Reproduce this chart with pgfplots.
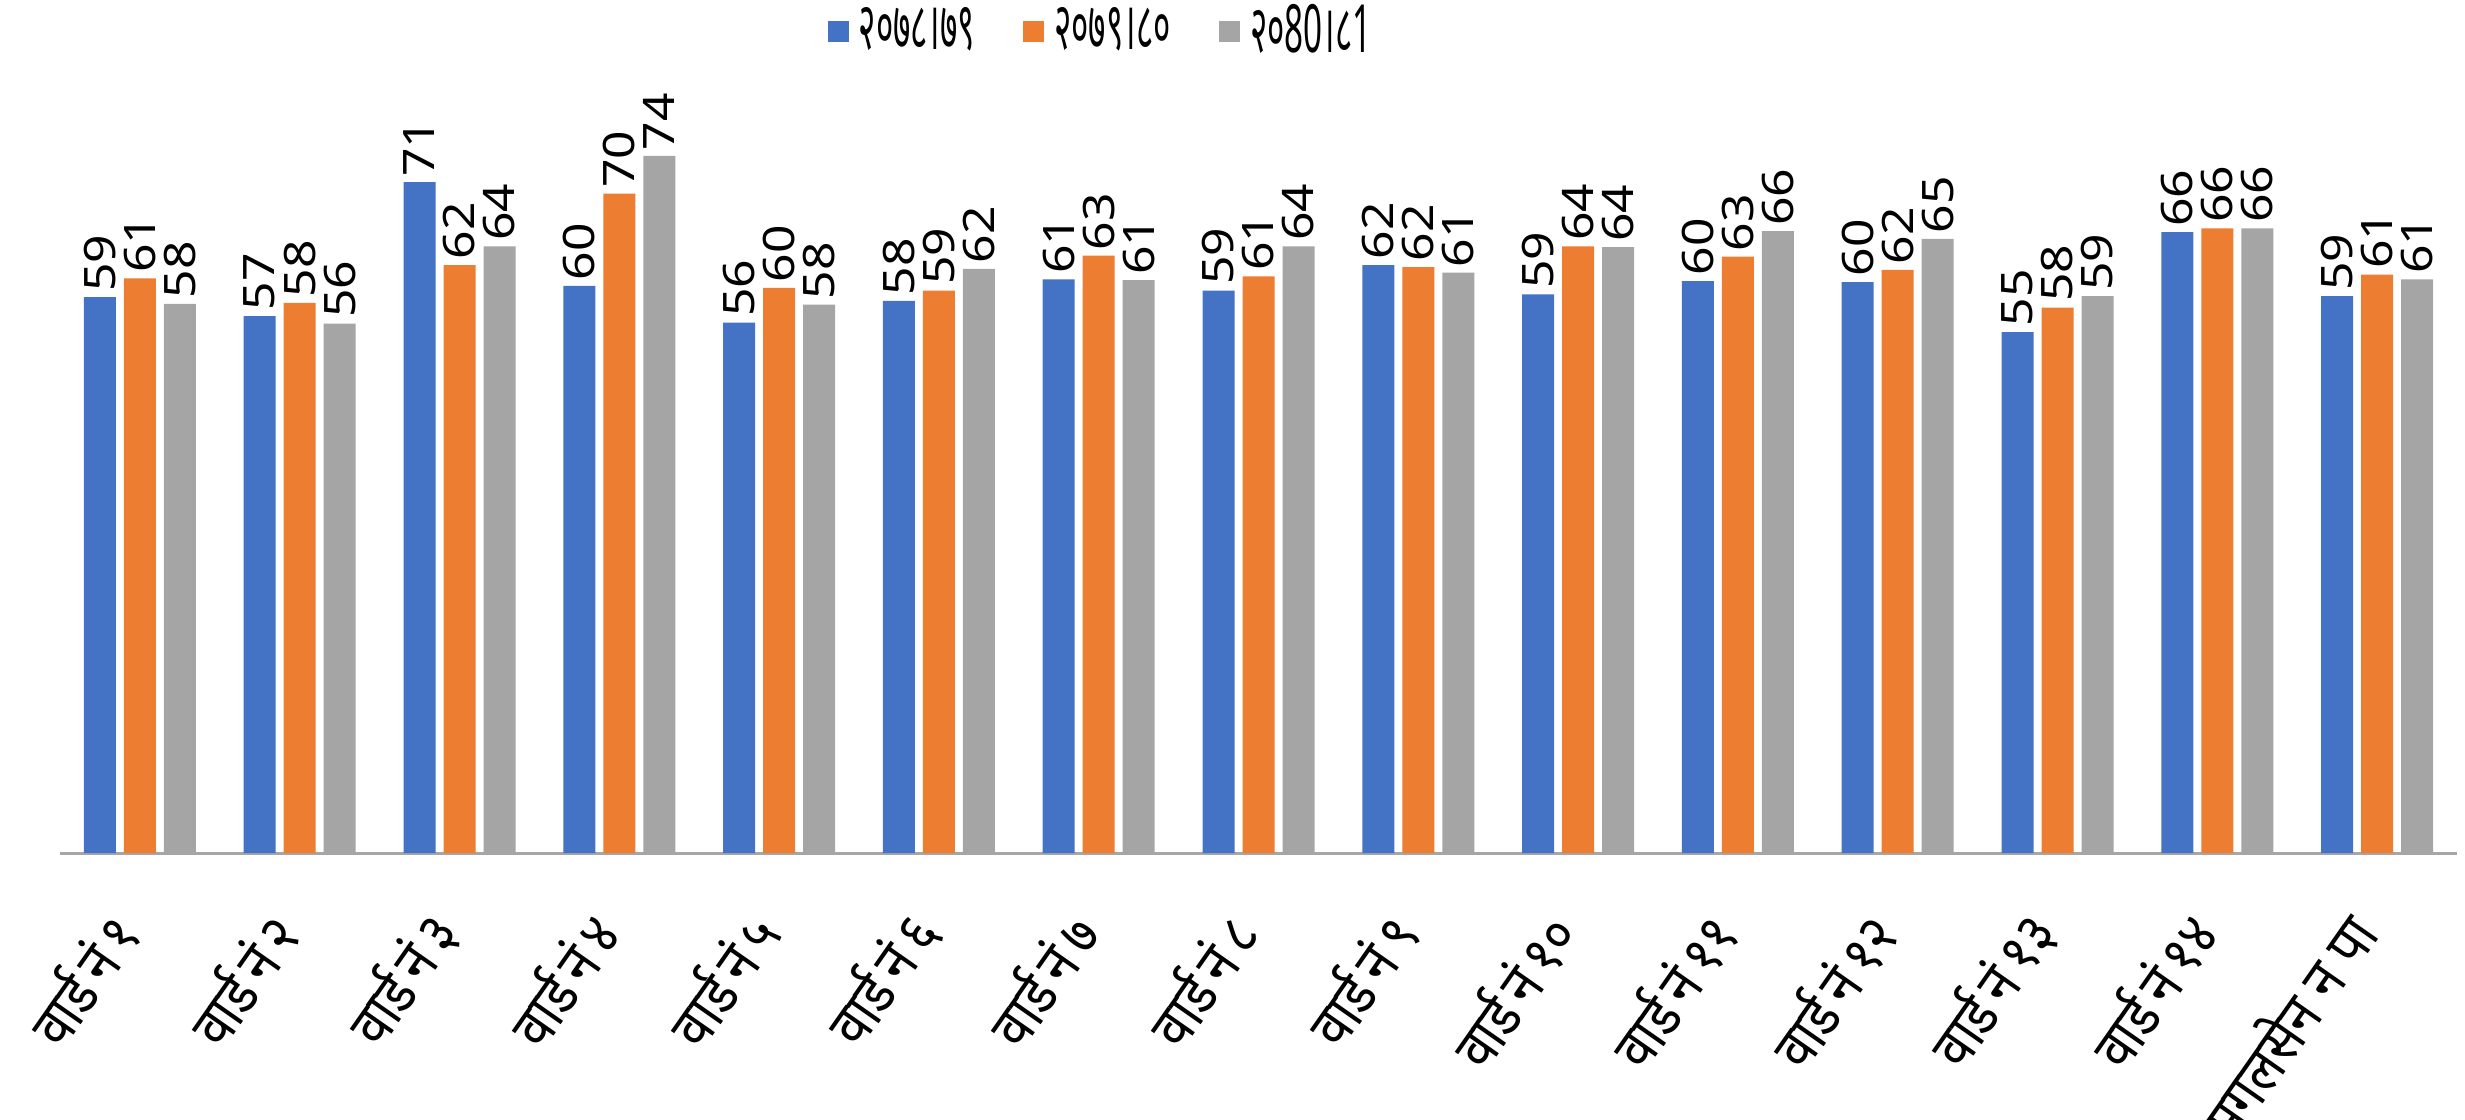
\documentclass[border=0pt]{standalone}
\usepackage{fontspec}
\setmainfont{Noto Sans}
\newfontfamily\deva[Script=Devanagari]{Noto Sans}
\usepackage{graphicx}
\usepackage{pgfplots}
\pgfplotsset{compat=1.18}
\usepackage{pgfplotstable}
\definecolor{cblue}{HTML}{4472C4}
\definecolor{corange}{HTML}{ED7D31}
\definecolor{cgray}{HTML}{A5A5A5}
\definecolor{axgray}{HTML}{A6A6A6}
\newcommand{\xlab}[1]{\scalebox{1}[1.15]{#1}}
\newcommand{\leglab}[1]{\scalebox{0.95}[1.9]{#1}}

\pgfplotstableread{
x y lab
0 59.0 59
1 57.0 57
2 71.2 71
3 60.2 60
4 56.3 56
5 58.6 58
6 60.9 61
7 59.7 59
8 62.4 62
9 59.3 59
10 60.7 60
11 60.6 60
12 55.3 55
13 65.9 66
14 59.1 59
}\dataA
\pgfplotstableread{
x y lab
0 61.0 61
1 58.4 58
2 62.4 62
3 70.0 70
4 60.0 60
5 59.7 59
6 63.4 63
7 61.2 61
8 62.2 62
9 64.4 64
10 63.3 63
11 61.9 62
12 57.9 58
13 66.3 66
14 61.4 61
}\dataB
\pgfplotstableread{
x y lab
0 58.3 58
1 56.2 56
2 64.4 64
3 74.0 74
4 58.2 58
5 62.0 62
6 60.8 61
7 64.4 64
8 61.6 61
9 64.3 64
10 66.0 66
11 65.2 65
12 59.1 59
13 66.3 66
14 60.9 61
}\dataC

\begin{document}
\begin{tikzpicture}
\path[use as bounding box] (0,0) rectangle (739.5pt,335.7pt);
\begin{axis}[
  at={(18pt,79.8pt)}, anchor=south west,
  scale only axis, width=719.1pt, height=226.1pt,
  ymin=0, ymax=80, xmin=-0.5, xmax=14.5,
  axis y line=none,
  axis x line*=bottom,
  x axis line style={draw=axgray, line width=0.9pt},
  xtick=data, xtick style={draw=none}, major tick length=0pt,
  xticklabels={\xlab{वार्ड\,नं\,१}, \xlab{वार्ड\,नं\,२}, \xlab{वार्ड\,नं\,३}, \xlab{वार्ड\,नं\,४}, \xlab{वार्ड\,नं\,५}, \xlab{वार्ड\,नं\,६}, \xlab{वार्ड\,नं\,७}, \xlab{वार्ड\,नं\,८}, \xlab{वार्ड\,नं\,९}, \xlab{वार्ड\,नं\,१०}, \xlab{वार्ड\,नं\,११}, \xlab{वार्ड\,नं\,१२}, \xlab{वार्ड\,नं\,१३}, \xlab{वार्ड\,नं\,१४}, \xlab{मगलसेन न पा}},
  xticklabel style={font=\deva\fontsize{15.5}{17}\selectfont, inner sep=0pt, shift={(-5pt,-20pt)}, rotate=55, anchor=east},
  ybar=2.4pt, bar width=9.6pt,
  clip=false,
  nodes near coords={\scalebox{1.15}[1]{\pgfplotspointmeta}},
  point meta=explicit symbolic,
  every node near coord/.append style={rotate=90, anchor=west, inner sep=1.5pt, font=\fontsize{13}{15}\selectfont, text=black},
  legend columns=3,
  legend style={at={(0.32,1)}, anchor=west, yshift=20.4pt, draw=none, fill=none, inner sep=0pt,
    font=\deva\fontsize{10.5}{13}\selectfont,
    /tikz/every even column/.append style={column sep=12.5pt},
    /tikz/every odd column/.append style={column sep=1pt}},
  legend image code/.code={\fill[#1] (0pt,-3.15pt) rectangle (6.3pt,3.15pt);},
]
\addplot[fill=cblue, draw=none] table[x=x, y=y, meta=lab] {\dataA};
\addplot[fill=corange, draw=none] table[x=x, y=y, meta=lab] {\dataB};
\addplot[fill=cgray, draw=none] table[x=x, y=y, meta=lab] {\dataC};
\legend{\leglab{२०७८।७९}, \leglab{२०७९।८०}, \leglab{२०80।८1}}
\end{axis}
\end{tikzpicture}
\end{document}
